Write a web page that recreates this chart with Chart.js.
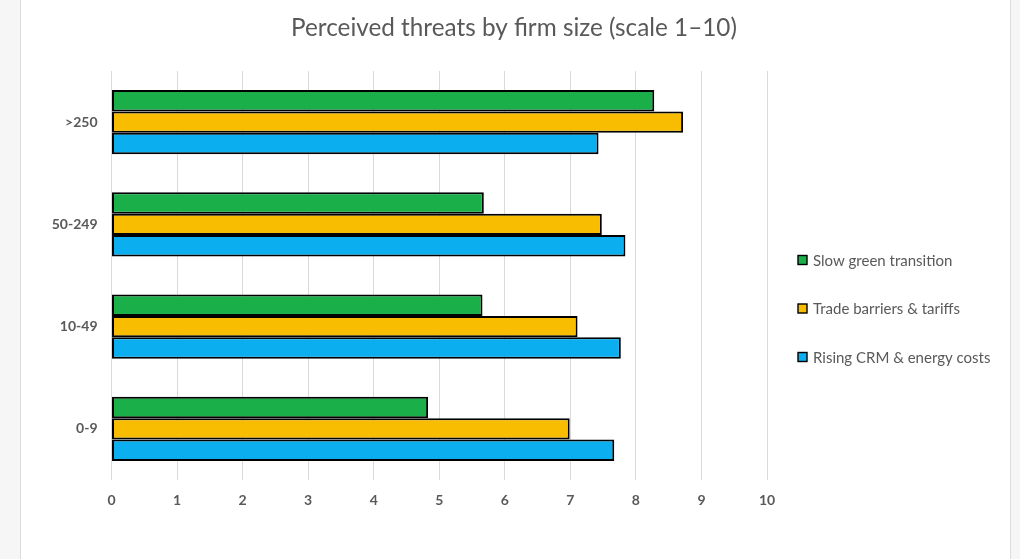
<!DOCTYPE html>
<html>
<head>
<meta charset="utf-8">
<script src="https://cdn.jsdelivr.net/npm/chart.js@4/dist/chart.umd.min.js"></script>
<style>
  html, body { margin: 0; padding: 0; background: #f6f6f6; }
  body { width: 1020px; height: 559px; position: relative; overflow: hidden; }
  #card {
    position: absolute; left: 20px; top: 0; width: 989px; height: 559px;
    background: #fff; border-left: 1px solid #dcdcdc; border-right: 1px solid #dcdcdc;
  }
  canvas { display: block; }
</style>
</head>
<body>
<div id="card"><canvas id="chart" width="989" height="559"></canvas></div>
<script>
// firm size groups, top to bottom as drawn
const sizeLabels = [">250", "50-249", "10-49", "0-9"];
const slowGreen = [8.28, 5.68, 5.66, 4.83];
const tradeBarriers = [8.72, 7.48, 7.11, 6.99];
const risingCosts = [7.43, 7.84, 7.77, 7.67];
const xTicks = [0, 1, 2, 3, 4, 5, 6, 7, 8, 9, 10];
const chartTitle = "Perceived threats by firm size (scale 1\u201310)";

const FONT = "Lato, 'Open Sans', sans-serif";
const TEXT_GREY = "#595959";

// title centred on the whole card, not just the plot
const cardTitle = {
  id: "cardTitle",
  afterDraw(chart) {
    const { ctx } = chart;
    ctx.save();
    ctx.font = `24.3px ${FONT}`;
    ctx.fillStyle = TEXT_GREY;
    ctx.textAlign = "center";
    ctx.textBaseline = "middle";
    ctx.fillText(chartTitle, 493, 28);
    ctx.restore();
  },
};

// small legend drawn on the canvas, to the right of the plot
const sideLegend = {
  id: "sideLegend",
  afterDraw(chart) {
    const { ctx } = chart;
    const x = 777;
    const rows = [260, 308.5, 357];
    ctx.save();
    ctx.font = `15px ${FONT}`;
    ctx.textBaseline = "middle";
    chart.data.datasets.forEach((ds, i) => {
      const y = rows[i];
      ctx.fillStyle = ds.backgroundColor;
      ctx.fillRect(x, y - 4.5, 9, 9);
      ctx.strokeStyle = "#000";
      ctx.lineWidth = 1.4;
      ctx.strokeRect(x, y - 4.5, 9, 9);
      ctx.fillStyle = TEXT_GREY;
      ctx.fillText(ds.label, x + 15, y + 1);
    });
    ctx.restore();
  },
};

const bar = (label, data, color) => ({
  label,
  data,
  backgroundColor: color,
  borderColor: "#000",
  borderWidth: 2,
  borderSkipped: false,
  categoryPercentage: 0.63,
  barPercentage: 1,
});

new Chart(document.getElementById("chart"), {
  type: "bar",
  data: {
    labels: sizeLabels,
    datasets: [
      bar("Slow green transition", slowGreen, "#1baf4a"),
      bar("Trade barriers & tariffs", tradeBarriers, "#f8bc00"),
      bar("Rising CRM & energy costs", risingCosts, "#0baeef"),
    ],
  },
  plugins: [cardTitle, sideLegend],
  options: {
    indexAxis: "y",
    responsive: false,
    animation: false,
    layout: { padding: { top: 71, bottom: 51, left: 0, right: 243 } },
    plugins: {
      legend: { display: false },
      tooltip: { enabled: false },
      title: { display: false },
    },
    scales: {
      x: {
        min: 0,
        max: 10,
        afterBuildTicks(scale) {
          scale.ticks = xTicks.map((v) => ({ value: v }));
        },
        afterFit(scale) {
          scale.height = 28;
        },
        grid: { color: "#d9d9d9", lineWidth: 1, drawTicks: false },
        border: { display: false },
        ticks: {
          color: TEXT_GREY,
          padding: 12,
          font: { family: FONT, size: 14, weight: "bold" },
        },
      },
      y: {
        grid: { display: false, drawTicks: false },
        border: { display: false },
        afterFit(scale) {
          scale.width = 90.5;
        },
        ticks: {
          color: TEXT_GREY,
          padding: 14,
          font: { family: FONT, size: 14, weight: "bold" },
        },
      },
    },
  },
});
</script>
</body>
</html>
